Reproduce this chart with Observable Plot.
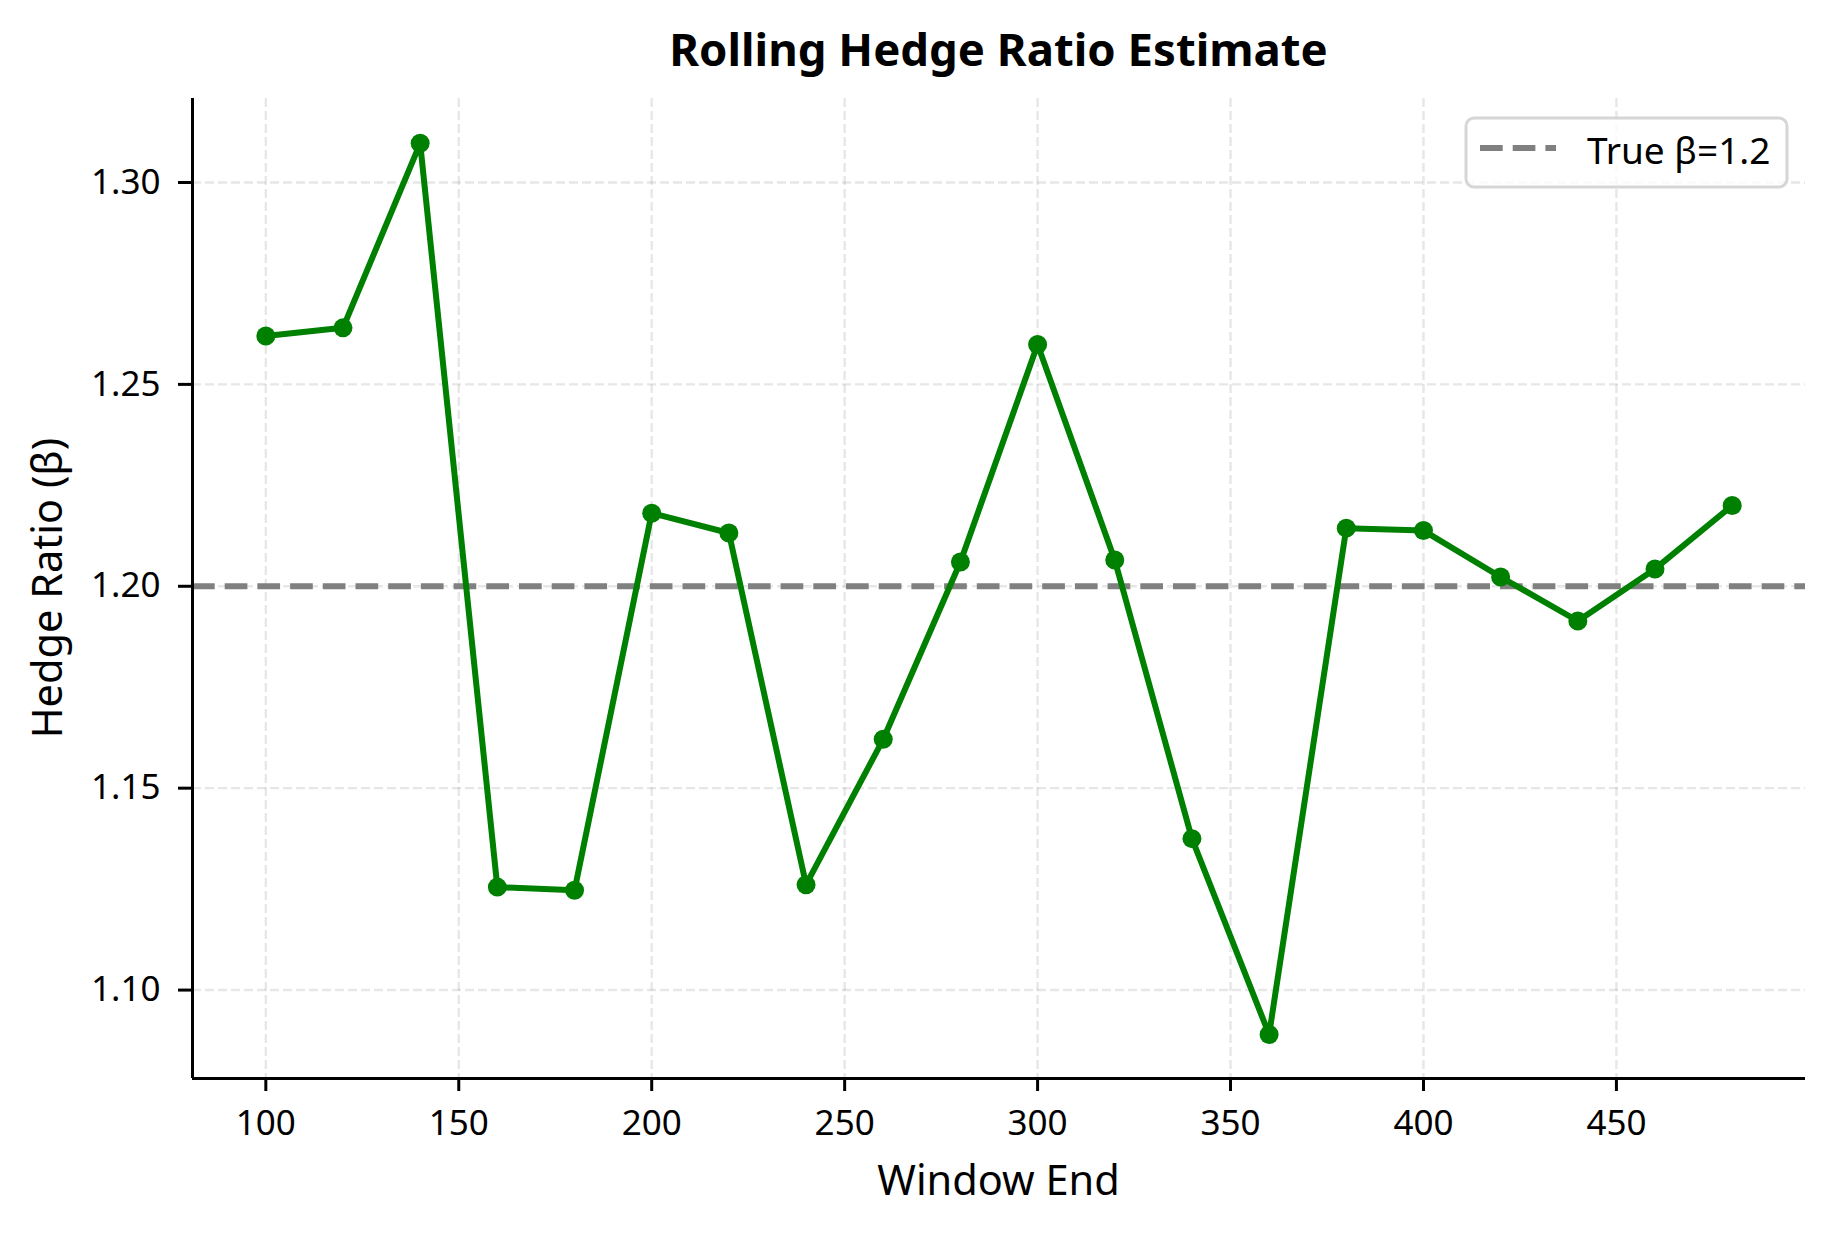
<!DOCTYPE html>
<html>
<head>
<meta charset="utf-8">
<script src="https://cdn.jsdelivr.net/npm/d3@7"></script>
<script src="https://cdn.jsdelivr.net/npm/@observablehq/plot@0.6"></script>
<style>
  html, body { margin: 0; padding: 0; background: white; }
  #chart svg { display: block; }
</style>
</head>
<body>
<div id="chart"></div>
<script>
// ---- data ----
const windowEnd = [100, 120, 140, 160, 180, 200, 220, 240, 260, 280, 300, 320, 340, 360, 380, 400, 420, 440, 460, 480];
const hedgeRatio = [1.262, 1.264, 1.3097, 1.1255, 1.1247, 1.2181, 1.2132, 1.1261, 1.1621, 1.2060, 1.2599, 1.2065, 1.1375, 1.0890, 1.2144, 1.2138, 1.2023, 1.1914, 1.2043, 1.2200];
const trueBeta = [1.2];
const xTicks = [100, 150, 200, 250, 300, 350, 400, 450];
const yTicks = [1.10, 1.15, 1.20, 1.25, 1.30];
const titleText = "Rolling Hedge Ratio Estimate";
const xLabel = "Window End";
const yLabel = "Hedge Ratio (β)";
const legendLabel = "True β=1.2";

const data = windowEnd.map((w, i) => ({w, b: hedgeRatio[i]}));
const xDomain = [81, 499];
const yDomain = [1.0781, 1.3208];

const W = 1834, H = 1234;
const font = "'Noto Sans', 'Open Sans', sans-serif";

const plot = Plot.plot({
  width: W,
  height: H,
  marginLeft: 192,
  marginRight: 29,
  marginTop: 98,
  marginBottom: 156,
  style: {fontFamily: font, fontSize: "35px", color: "black", background: "white"},
  x: {domain: xDomain},
  y: {domain: yDomain},
  marks: [
    Plot.gridX(xTicks, {stroke: "#b0b0b0", strokeOpacity: 0.3, strokeWidth: 2.4, strokeDasharray: "9,4"}),
    Plot.gridY(yTicks, {stroke: "#b0b0b0", strokeOpacity: 0.3, strokeWidth: 2.4, strokeDasharray: "9,4"}),
    Plot.ruleY(trueBeta, {stroke: "gray", strokeWidth: 6, strokeDasharray: "22.7,10"}),
    Plot.line(data, {x: "w", y: "b", stroke: "green", strokeWidth: 6}),
    Plot.dot(data, {x: "w", y: "b", r: 9.5, fill: "green", stroke: "none"}),
    Plot.axisX(xTicks, {tickSize: 13, tickPadding: 19, strokeWidth: 3, fontSize: 35, label: null}),
    Plot.axisY(yTicks, {tickSize: 14, tickPadding: 18, strokeWidth: 3, fontSize: 35, label: null, tickFormat: d3.format(".2f")}),
    Plot.ruleX([xDomain[0]], {stroke: "black", strokeWidth: 3}),
    Plot.ruleY([yDomain[0]], {stroke: "black", strokeWidth: 3})
  ]
});

document.getElementById("chart").appendChild(plot);

const svg = d3.select(plot);
const xs = plot.scale("x"), ys = plot.scale("y");
const frameLeft = xs.range[0], frameRight = xs.range[1];
const frameTop = ys.range[1], frameBottom = ys.range[0];
const cx = (frameLeft + frameRight) / 2;

// title
svg.append("text")
  .attr("x", cx).attr("y", 66)
  .attr("text-anchor", "middle")
  .attr("font-family", font)
  .attr("font-weight", "bold")
  .attr("font-size", 45.5)
  .attr("fill", "black")
  .text(titleText);

// x label
svg.append("text")
  .attr("x", cx).attr("y", 1195)
  .attr("text-anchor", "middle")
  .attr("font-family", font)
  .attr("font-size", 41.5)
  .attr("fill", "black")
  .text(xLabel);

// y label
const cy = (frameTop + frameBottom) / 2;
svg.append("text")
  .attr("transform", `translate(62,${cy}) rotate(-90)`)
  .attr("text-anchor", "middle")
  .attr("font-family", font)
  .attr("font-size", 41.5)
  .attr("fill", "black")
  .text(yLabel);

// legend
const lg = svg.append("g");
lg.append("rect")
  .attr("x", 1466).attr("y", 118).attr("width", 321).attr("height", 69)
  .attr("rx", 8).attr("ry", 8)
  .attr("fill", "white").attr("fill-opacity", 0.8)
  .attr("stroke", "#d6d6d6").attr("stroke-width", 3);
lg.append("line")
  .attr("x1", 1480).attr("x2", 1556).attr("y1", 148).attr("y2", 148)
  .attr("stroke", "gray").attr("stroke-width", 6).attr("stroke-dasharray", "22.7,10");
lg.append("text")
  .attr("x", 1587).attr("y", 164)
  .attr("text-anchor", "start")
  .attr("font-family", font)
  .attr("font-size", 37)
  .attr("fill", "black")
  .text(legendLabel);
</script>
</body>
</html>
